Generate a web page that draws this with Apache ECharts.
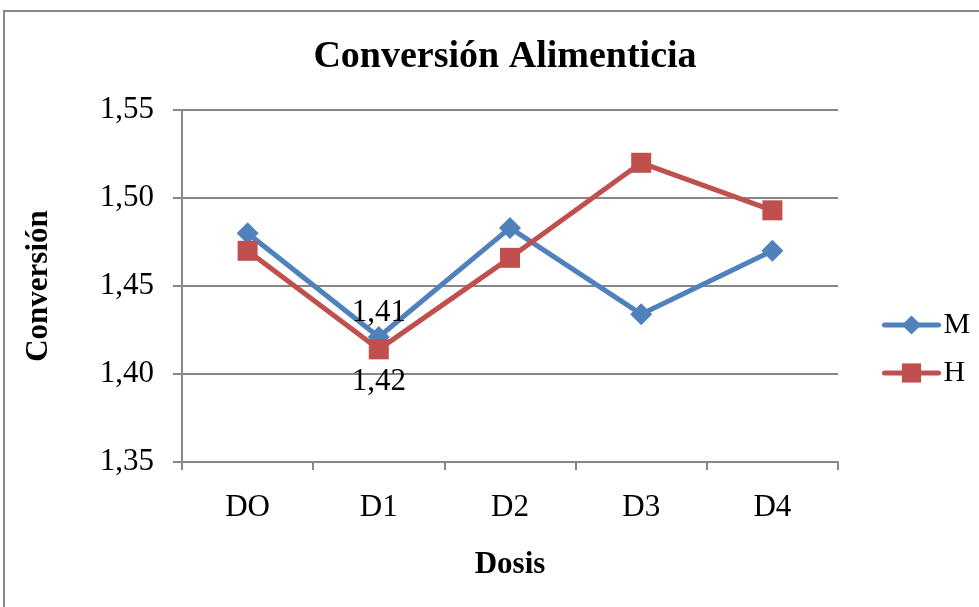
<!DOCTYPE html>
<html>
<head>
<meta charset="utf-8">
<script src="https://cdn.jsdelivr.net/npm/echarts@6/dist/echarts.min.js"></script>
<style>
  html, body { margin: 0; padding: 0; background: #ffffff; }
  #chart { width: 979px; height: 607px; }
</style>
</head>
<body>
<div id="chart"></div>
<script>
// Dose groups and feed conversion per group
const categories = ['DO', 'D1', 'D2', 'D3', 'D4'];
const seriesM = [1.480, 1.421, 1.483, 1.434, 1.470];
const seriesH = [1.470, 1.414, 1.466, 1.520, 1.493];
const yTicks = { min: 1.35, max: 1.55, step: 0.05 };
// Points that carry a value label (index into categories)
const labelledIndexM = 1;
const labelledIndexH = 1;

const BLUE = '#4F81BD';
const RED = '#C0504D';
const GREY = '#878787';
const FONT = '"Liberation Serif", "Times New Roman", serif';

const fmt = v => v.toFixed(2).replace('.', ',');

function buildData(values, labelIndex, labelOpts) {
  return values.map((v, i) => {
    if (i !== labelIndex) return v;
    return { value: v, label: Object.assign({ show: true }, labelOpts) };
  });
}

const chart = echarts.init(document.getElementById('chart'), null, { renderer: 'canvas' });

chart.setOption({
  backgroundColor: '#ffffff',
  animation: false,
  graphic: [{
    type: 'rect',
    shape: { x: 4, y: 11, width: 1100, height: 700 },
    style: { fill: 'none', stroke: GREY, lineWidth: 2 },
    silent: true
  }],
  title: {
    text: 'Conversión Alimenticia',
    left: 500,
    textAlign: 'center',
    top: 33,
    textStyle: { fontFamily: FONT, fontWeight: 'bold', fontSize: 38, color: '#000' }
  },
  grid: { left: 182, right: 141, top: 110, bottom: 145, containLabel: false },
  legend: {
    orient: 'vertical',
    left: 877,
    top: 305,
    itemWidth: 54,
    itemHeight: 24,
    itemGap: 18,
    data: ['M', 'H'],
    lineStyle: { width: 5, cap: 'round' },
    textStyle: { fontFamily: FONT, fontSize: 30, color: '#000' }
  },
  xAxis: {
    type: 'category',
    data: categories,
    boundaryGap: true,
    name: 'Dosis',
    nameLocation: 'middle',
    nameGap: 87,
    nameTextStyle: { fontFamily: FONT, fontWeight: 'bold', fontSize: 31, color: '#000' },
    axisLine: { show: true, lineStyle: { color: GREY, width: 2 } },
    axisTick: { show: true, alignWithLabel: false, length: 8, lineStyle: { color: GREY, width: 2 } },
    axisLabel: { fontFamily: FONT, fontSize: 31, color: '#000', margin: 30 },
    splitLine: { show: false }
  },
  yAxis: {
    type: 'value',
    min: yTicks.min,
    max: yTicks.max,
    interval: yTicks.step,
    name: 'Conversión',
    nameLocation: 'middle',
    nameGap: 128,
    nameRotate: 90,
    nameTextStyle: { fontFamily: FONT, fontWeight: 'bold', fontSize: 31, color: '#000' },
    axisLine: { show: true, lineStyle: { color: GREY, width: 2 } },
    axisTick: { show: true, length: 9, lineStyle: { color: GREY, width: 2 } },
    axisLabel: { fontFamily: FONT, fontSize: 31, color: '#000', margin: 28, formatter: fmt },
    splitLine: { show: true, lineStyle: { color: GREY, width: 2 } }
  },
  series: [
    {
      name: 'M',
      type: 'line',
      data: buildData(seriesM, labelledIndexM, { position: 'bottom', distance: 18 }),
      symbol: 'diamond',
      symbolSize: 22,
      lineStyle: { color: BLUE, width: 5 },
      itemStyle: { color: BLUE },
      label: { show: false, fontFamily: FONT, fontSize: 31, color: '#000', formatter: p => fmt(p.value) },
      z: 2
    },
    {
      name: 'H',
      type: 'line',
      data: buildData(seriesH, labelledIndexH, { position: 'top', distance: 11 }),
      symbol: 'rect',
      symbolSize: 20,
      lineStyle: { color: RED, width: 5 },
      itemStyle: { color: RED },
      label: { show: false, fontFamily: FONT, fontSize: 31, color: '#000', formatter: p => fmt(p.value) },
      z: 3
    }
  ]
});
</script>
</body>
</html>
